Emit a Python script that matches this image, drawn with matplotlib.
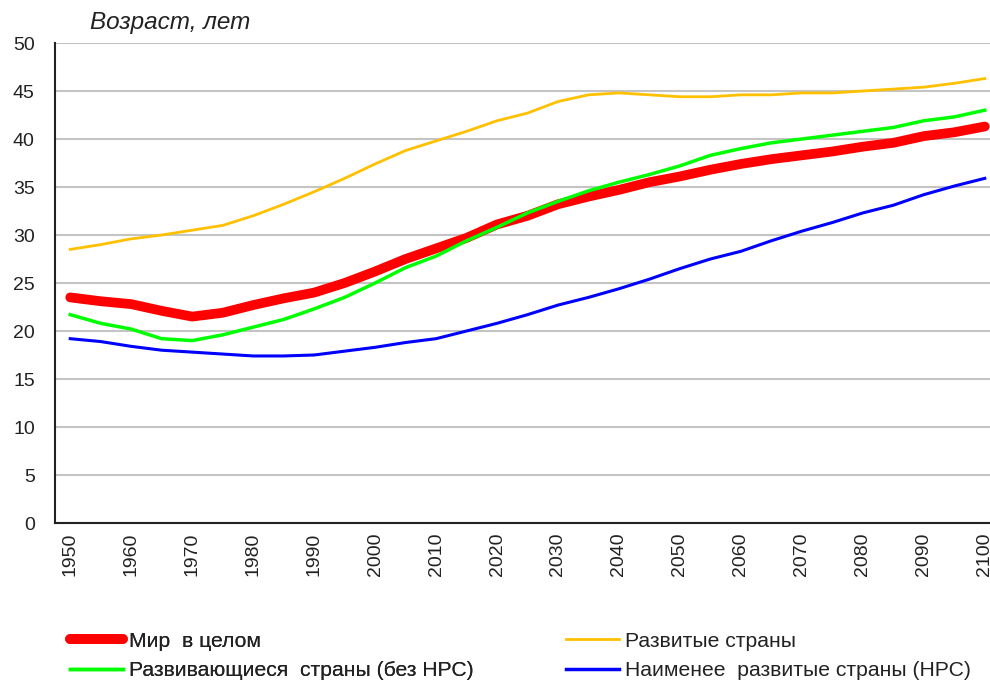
import matplotlib
matplotlib.use('Agg')

import matplotlib.pyplot as plt
from matplotlib.lines import Line2D

plt.rcParams['font.family'] = ['Liberation Sans', 'DejaVu Sans']

# ---------- Data ----------

years = list(range(1950, 2101, 5))

world = [23.5, 23.1, 22.8, 22.1, 21.5, 21.9, 22.7, 23.4, 24.0, 25.0,
         26.2, 27.5, 28.6, 29.7, 31.1, 32.0, 33.2, 34.0, 34.7, 35.5,
         36.1, 36.8, 37.4, 37.9, 38.3, 38.7, 39.2, 39.6, 40.3, 40.7, 41.3]

developed = [28.5, 29.0, 29.6, 30.0, 30.5, 31.0, 32.0, 33.2, 34.5, 35.9,
             37.4, 38.8, 39.8, 40.8, 41.9, 42.7, 43.9, 44.6, 44.8, 44.6,
             44.4, 44.4, 44.6, 44.6, 44.8, 44.8, 45.0, 45.2, 45.4, 45.8, 46.3]

developing = [21.7, 20.8, 20.2, 19.2, 19.0, 19.6, 20.4, 21.2, 22.3, 23.5,
              25.0, 26.6, 27.8, 29.4, 30.8, 32.3, 33.5, 34.6, 35.5, 36.3,
              37.2, 38.3, 39.0, 39.6, 40.0, 40.4, 40.8, 41.2, 41.9, 42.3, 43.0]

least_dev = [19.2, 18.9, 18.4, 18.0, 17.8, 17.6, 17.4, 17.4, 17.5, 17.9,
             18.3, 18.8, 19.2, 20.0, 20.8, 21.7, 22.7, 23.5, 24.4, 25.4,
             26.5, 27.5, 28.3, 29.4, 30.4, 31.3, 32.3, 33.1, 34.2, 35.1, 35.9]

labels = ["Мир  в целом", "Развитые страны",
          "Развивающиеся  страны (без НРС)", "Наименее  развитые страны (НРС)"]

y_ticks = list(range(0, 51, 5))

# ---------- Figure ----------

fig = plt.figure(figsize=(9.9, 6.84), dpi=100)
ax = fig.add_axes([55 / 990, 161 / 684, 945 / 990, 480 / 684])

x = list(range(len(years)))

ax.plot(x, world, color="#ff0000", lw=7, solid_capstyle="round", zorder=3)
ax.plot(x, developed, color="#ffc000", lw=2.0, zorder=4)
ax.plot(x, developing, color="#00ff00", lw=2.5, zorder=5)
ax.plot(x, least_dev, color="#0000ff", lw=2.2, zorder=6)

ax.set_xlim(-0.5, 30.5)
ax.set_ylim(0, 50)

ax.set_yticks(y_ticks)
ax.set_xticks(x[::2])
ax.set_xticklabels([str(y) for y in years[::2]], rotation=90)
ax.tick_params(axis="both", length=0, labelsize=14, colors="#222222")
ax.tick_params(axis="y", pad=14.5)
ax.tick_params(axis="x", pad=7)

ax.grid(True, axis="y", color="#c4c4c4", lw=1.5, zorder=0)
ax.set_axisbelow(True)

for side in ["right", "top"]:
    ax.spines[side].set_visible(False)
ax.spines["left"].set_color("#222222")
ax.spines["left"].set_linewidth(1.5)
ax.spines["bottom"].set_color("#222222")
ax.spines["bottom"].set_linewidth(1.5)

fig.text(90 / 990, 1 - 22 / 684, "Возраст, лет", fontsize=17.5, style="italic",
         color="#222222", ha="left", va="center")

# ---------- Legend ----------

h_world = Line2D([], [], color="#ff0000", lw=7, solid_capstyle="round")
h_dev = Line2D([], [], color="#ffc000", lw=2.0)
h_devg = Line2D([], [], color="#00ff00", lw=2.5)
h_ldc = Line2D([], [], color="#0000ff", lw=2.5)

leg_kw = dict(loc="upper left", frameon=False, fontsize=15.2, handlelength=2.5,
              handletextpad=0.3, labelspacing=0.5, borderpad=0.2,
              labelcolor="#222222")

leg1 = fig.legend([h_world, h_devg], [labels[0], labels[2]],
                  bbox_to_anchor=(55 / 990, 1 - 617 / 684), **leg_kw)
fig.add_artist(leg1)
fig.legend([h_dev, h_ldc], [labels[1], labels[3]],
           bbox_to_anchor=(551 / 990, 1 - 617 / 684), **leg_kw)

fig.savefig("out.png", dpi=100)
